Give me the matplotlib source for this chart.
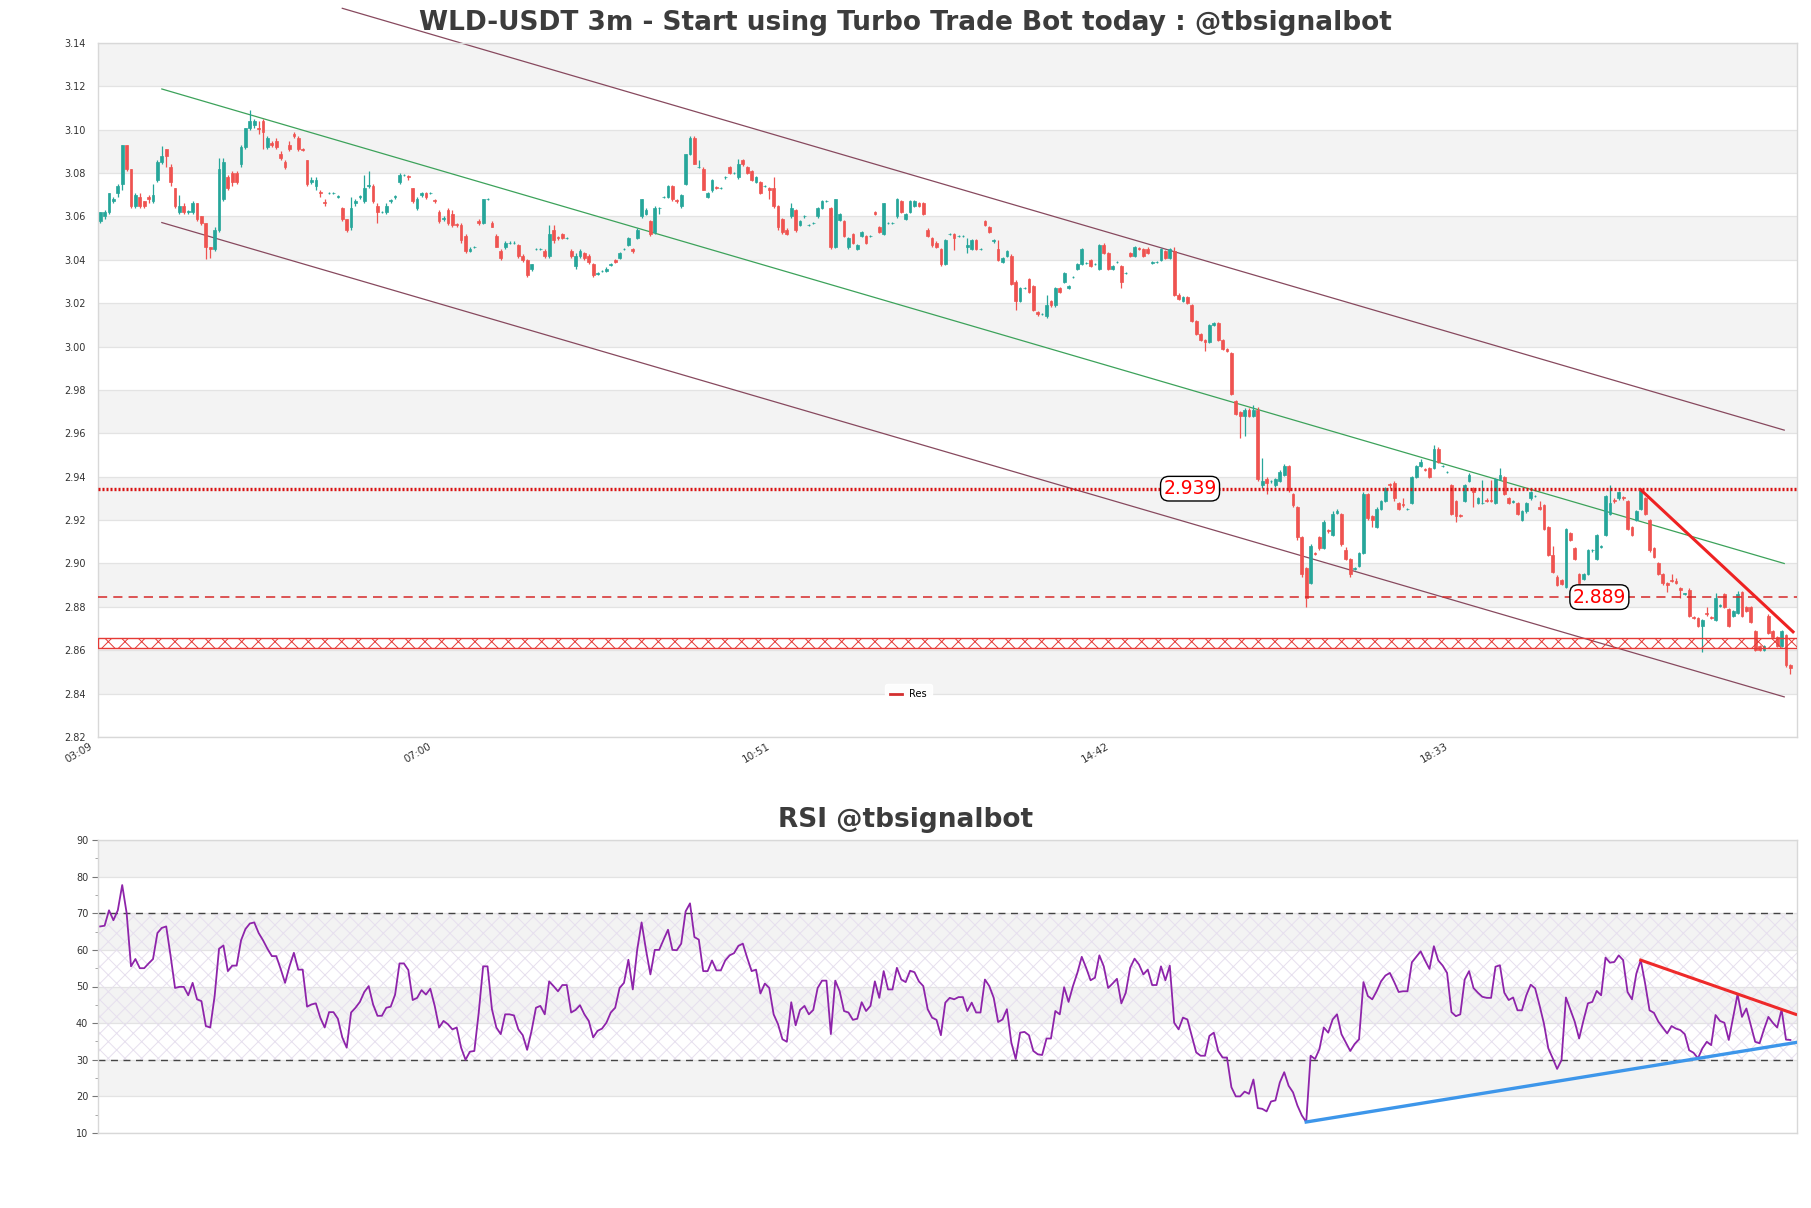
import matplotlib.pyplot as plt
from matplotlib.lines import Line2D
from matplotlib.ticker import FormatStrFormatter, MultipleLocator
from matplotlib.transforms import ScaledTranslation
import numpy as np

# ---- WLD-USDT 3m candles ----
opens = [
    3.058, 3.060, 3.062, 3.067, 3.071, 3.075, 3.093, 3.082, 3.065, 3.069,
    3.067, 3.069, 3.067, 3.077, 3.085, 3.091, 3.083, 3.073, 3.062, 3.065,
    3.062, 3.062, 3.066, 3.060, 3.057, 3.046, 3.045, 3.054, 3.068, 3.078,
    3.080, 3.080, 3.084, 3.092, 3.101, 3.102, 3.101, 3.104, 3.092, 3.094,
    3.095, 3.089, 3.085, 3.093, 3.098, 3.096, 3.091, 3.086, 3.076, 3.074,
    3.0715, 3.0665, 3.071, 3.071, 3.069, 3.064, 3.059, 3.055, 3.066, 3.069,
    3.067, 3.074, 3.074, 3.065, 3.062, 3.062, 3.067, 3.069, 3.076, 3.079,
    3.0785, 3.073, 3.064, 3.070, 3.071, 3.071, 3.0675, 3.062, 3.059, 3.063,
    3.061, 3.0565, 3.056, 3.051, 3.044, 3.046, 3.058, 3.057, 3.068, 3.057,
    3.051, 3.044, 3.046, 3.048, 3.048, 3.047, 3.042, 3.040, 3.036, 3.045,
    3.045, 3.044, 3.042, 3.054, 3.0505, 3.052, 3.050, 3.044, 3.037, 3.042,
    3.043, 3.042, 3.038, 3.0335, 3.035, 3.035, 3.0375, 3.040, 3.041, 3.045,
    3.047, 3.045, 3.050, 3.060, 3.061, 3.058, 3.053, 3.064, 3.069, 3.069,
    3.074, 3.0675, 3.065, 3.075, 3.089, 3.096, 3.083, 3.082, 3.069, 3.072,
    3.0735, 3.073, 3.078, 3.083, 3.080, 3.078, 3.086, 3.083, 3.081, 3.076,
    3.076, 3.074, 3.073, 3.073, 3.065, 3.059, 3.054, 3.060, 3.063, 3.056,
    3.060, 3.056, 3.057, 3.060, 3.064, 3.067, 3.064, 3.046, 3.0585, 3.058,
    3.046, 3.052, 3.045, 3.051, 3.051, 3.051, 3.062, 3.055, 3.052, 3.057,
    3.057, 3.060, 3.067, 3.059, 3.062, 3.065, 3.066, 3.066, 3.054, 3.050,
    3.048, 3.045, 3.038, 3.052, 3.052, 3.051, 3.051, 3.046, 3.045, 3.049,
    3.045, 3.058, 3.055, 3.0485, 3.045, 3.039, 3.042, 3.042, 3.030, 3.021,
    3.027, 3.031, 3.028, 3.016, 3.015, 3.014, 3.021, 3.019, 3.027, 3.030,
    3.027, 3.032, 3.036, 3.038, 3.0385, 3.040, 3.038, 3.036, 3.047, 3.043,
    3.036, 3.039, 3.037, 3.034, 3.043, 3.042, 3.0455, 3.045, 3.045, 3.0385,
    3.039, 3.040, 3.044, 3.041, 3.044, 3.024, 3.021, 3.023, 3.019, 3.012,
    3.006, 3.003, 3.002, 3.010, 3.011, 3.003, 2.999, 2.997, 2.975, 2.970,
    2.968, 2.971, 2.968, 2.971, 2.936, 2.939, 2.938, 2.936, 2.938, 2.941,
    2.945, 2.932, 2.926, 2.912, 2.898, 2.891, 2.905, 2.912, 2.907, 2.9155,
    2.913, 2.9235, 2.923, 2.906, 2.902, 2.8975, 2.899, 2.905, 2.932, 2.922,
    2.917, 2.925, 2.929, 2.9365, 2.937, 2.928, 2.9275, 2.925, 2.928, 2.940,
    2.945, 2.9435, 2.944, 2.944, 2.953, 2.945, 2.942, 2.936, 2.929, 2.9225,
    2.929, 2.938, 2.935, 2.928, 2.928, 2.9295, 2.9295, 2.928, 2.939, 2.940,
    2.930, 2.9285, 2.928, 2.920, 2.924, 2.930, 2.931, 2.926, 2.927, 2.917,
    2.904, 2.894, 2.8925, 2.889, 2.914, 2.907, 2.895, 2.893, 2.895, 2.906,
    2.902, 2.9075, 2.913, 2.923, 2.9295, 2.930, 2.9305, 2.929, 2.917, 2.920,
    2.925, 2.930, 2.920, 2.907, 2.900, 2.895, 2.891, 2.8925, 2.892, 2.8885,
    2.886, 2.888, 2.8755, 2.875, 2.871, 2.877, 2.8755, 2.874, 2.8805, 2.886,
    2.879, 2.876, 2.877, 2.887, 2.880, 2.880, 2.869, 2.862, 2.860, 2.876,
    2.869, 2.866, 2.862, 2.867, 2.853,
]
highs = [
    3.062, 3.063, 3.071, 3.069, 3.075, 3.093, 3.093, 3.082, 3.071, 3.071,
    3.067, 3.070, 3.075, 3.086, 3.0925, 3.091, 3.084, 3.073, 3.070, 3.066,
    3.063, 3.067, 3.066, 3.060, 3.057, 3.046, 3.055, 3.087, 3.087, 3.079,
    3.081, 3.081, 3.093, 3.101, 3.109, 3.105, 3.104, 3.105, 3.097, 3.095,
    3.096, 3.090, 3.086, 3.095, 3.099, 3.097, 3.0915, 3.086, 3.078, 3.078,
    3.072, 3.068, 3.0715, 3.0715, 3.070, 3.0645, 3.059, 3.069, 3.068, 3.070,
    3.079, 3.081, 3.075, 3.066, 3.0625, 3.066, 3.068, 3.070, 3.080, 3.0795,
    3.079, 3.073, 3.069, 3.0715, 3.0715, 3.0715, 3.068, 3.063, 3.060, 3.064,
    3.063, 3.057, 3.057, 3.052, 3.046, 3.0465, 3.059, 3.068, 3.0685, 3.058,
    3.052, 3.045, 3.0485, 3.0485, 3.0485, 3.0475, 3.0425, 3.0405, 3.038, 3.0455,
    3.0455, 3.045, 3.056, 3.056, 3.051, 3.0525, 3.0505, 3.045, 3.043, 3.045,
    3.0435, 3.0425, 3.0385, 3.0345, 3.0355, 3.0365, 3.0385, 3.0405, 3.0435, 3.0455,
    3.0505, 3.0455, 3.0545, 3.068, 3.064, 3.0585, 3.065, 3.0645, 3.0695, 3.0745,
    3.0745, 3.068, 3.0705, 3.089, 3.097, 3.097, 3.086, 3.083, 3.0715, 3.0775,
    3.074, 3.0735, 3.0785, 3.0835, 3.0805, 3.0865, 3.0865, 3.0835, 3.0815, 3.0785,
    3.0765, 3.0745, 3.0735, 3.078, 3.0655, 3.0595, 3.0545, 3.066, 3.0635, 3.0585,
    3.0605, 3.0565, 3.0575, 3.0645, 3.0675, 3.0675, 3.0645, 3.068, 3.0615, 3.0585,
    3.0505, 3.0525, 3.0475, 3.0535, 3.0515, 3.0515, 3.0625, 3.0555, 3.066, 3.0575,
    3.0575, 3.0685, 3.0675, 3.0615, 3.0675, 3.0675, 3.0665, 3.0665, 3.0545, 3.0505,
    3.0485, 3.0455, 3.0495, 3.0525, 3.0525, 3.0515, 3.0515, 3.050, 3.0495, 3.0495,
    3.0455, 3.0585, 3.0555, 3.0495, 3.049, 3.0415, 3.0445, 3.0425, 3.0305, 3.0275,
    3.0275, 3.0315, 3.0285, 3.0165, 3.0155, 3.024, 3.0215, 3.0275, 3.0275, 3.0345,
    3.0285, 3.0325, 3.0385, 3.0455, 3.039, 3.0405, 3.0385, 3.0475, 3.048, 3.0435,
    3.0375, 3.0395, 3.0375, 3.0345, 3.0435, 3.0465, 3.046, 3.0455, 3.046, 3.0395,
    3.0395, 3.0455, 3.0445, 3.0455, 3.046, 3.0245, 3.0235, 3.0235, 3.0195, 3.0125,
    3.0065, 3.0035, 3.0105, 3.0115, 3.0115, 3.0035, 2.9995, 2.9975, 2.9755, 2.9705,
    2.9715, 2.9715, 2.973, 2.972, 2.9485, 2.940, 2.9385, 2.9395, 2.943, 2.946,
    2.9455, 2.9325, 2.9265, 2.9125, 2.8985, 2.909, 2.9055, 2.9125, 2.920, 2.916,
    2.924, 2.925, 2.9235, 2.9075, 2.9025, 2.8985, 2.9055, 2.933, 2.9325, 2.9225,
    2.926, 2.9295, 2.9355, 2.937, 2.938, 2.9285, 2.930, 2.9255, 2.9405, 2.9455,
    2.948, 2.944, 2.9445, 2.9545, 2.9535, 2.9455, 2.9425, 2.9365, 2.9295, 2.923,
    2.9365, 2.9415, 2.9355, 2.9305, 2.9385, 2.930, 2.9385, 2.9395, 2.944, 2.9405,
    2.9305, 2.9295, 2.9285, 2.9245, 2.9285, 2.9335, 2.9315, 2.929, 2.9275, 2.9175,
    2.908, 2.8945, 2.893, 2.9165, 2.9145, 2.9075, 2.8955, 2.8955, 2.9065, 2.9065,
    2.9135, 2.9085, 2.9315, 2.936, 2.930, 2.9335, 2.931, 2.9295, 2.9175, 2.9245,
    2.9345, 2.9305, 2.9205, 2.9075, 2.9005, 2.8955, 2.8915, 2.895, 2.8935, 2.889,
    2.8865, 2.8885, 2.876, 2.8755, 2.8745, 2.880, 2.876, 2.8865, 2.8815, 2.8865,
    2.8795, 2.8785, 2.8875, 2.8875, 2.8805, 2.8805, 2.8695, 2.8625, 2.8625, 2.8765,
    2.8695, 2.8665, 2.8695, 2.8675, 2.8535,
]
lows = [
    3.057, 3.059, 3.061, 3.066, 3.069, 3.072, 3.081, 3.064, 3.064, 3.064,
    3.064, 3.066, 3.066, 3.076, 3.084, 3.083, 3.074, 3.064, 3.061, 3.061,
    3.061, 3.061, 3.058, 3.056, 3.0405, 3.041, 3.044, 3.053, 3.067, 3.072,
    3.074, 3.075, 3.083, 3.091, 3.100, 3.101, 3.098, 3.091, 3.091, 3.092,
    3.091, 3.086, 3.082, 3.090, 3.096, 3.090, 3.090, 3.074, 3.075, 3.072,
    3.069, 3.065, 3.0705, 3.0705, 3.0685, 3.058, 3.053, 3.054, 3.065, 3.068,
    3.066, 3.073, 3.066, 3.057, 3.0615, 3.061, 3.066, 3.068, 3.075, 3.0785,
    3.077, 3.066, 3.063, 3.069, 3.068, 3.0705, 3.066, 3.057, 3.058, 3.056,
    3.055, 3.055, 3.048, 3.043, 3.0435, 3.0455, 3.056, 3.0565, 3.0675, 3.055,
    3.046, 3.040, 3.045, 3.0475, 3.0475, 3.041, 3.039, 3.032, 3.035, 3.0445,
    3.0445, 3.041, 3.041, 3.048, 3.049, 3.0495, 3.0495, 3.041, 3.036, 3.041,
    3.040, 3.038, 3.032, 3.033, 3.0345, 3.0345, 3.037, 3.0385, 3.0405, 3.0445,
    3.0465, 3.043, 3.0495, 3.0595, 3.0605, 3.051, 3.052, 3.061, 3.0685, 3.0685,
    3.067, 3.066, 3.064, 3.0745, 3.0885, 3.084, 3.0825, 3.072, 3.0685, 3.0715,
    3.0725, 3.0725, 3.0775, 3.0795, 3.0795, 3.0775, 3.0835, 3.0795, 3.0765, 3.0755,
    3.0705, 3.0735, 3.068, 3.064, 3.054, 3.052, 3.0515, 3.0595, 3.053, 3.0555,
    3.0595, 3.0555, 3.0565, 3.0595, 3.0635, 3.0665, 3.045, 3.0455, 3.058, 3.0505,
    3.045, 3.0475, 3.0445, 3.0505, 3.0475, 3.0505, 3.0605, 3.0525, 3.0515, 3.0565,
    3.0565, 3.0595, 3.0615, 3.0585, 3.0615, 3.0645, 3.0645, 3.0605, 3.0505, 3.046,
    3.0455, 3.037, 3.0375, 3.0515, 3.0445, 3.0505, 3.0505, 3.043, 3.0445, 3.0445,
    3.0445, 3.0555, 3.0525, 3.048, 3.0395, 3.0385, 3.0415, 3.0285, 3.017, 3.0205,
    3.0265, 3.0245, 3.0165, 3.014, 3.0145, 3.013, 3.0185, 3.0185, 3.0245, 3.0295,
    3.0265, 3.0315, 3.0355, 3.0375, 3.038, 3.0365, 3.0375, 3.0355, 3.0425, 3.0355,
    3.0355, 3.0385, 3.027, 3.0335, 3.0415, 3.0415, 3.0445, 3.0415, 3.0425, 3.038,
    3.0385, 3.0395, 3.0405, 3.0405, 3.0235, 3.0215, 3.0205, 3.0195, 3.0115, 3.0055,
    3.0025, 2.998, 3.0015, 3.0095, 3.0025, 2.9985, 2.9975, 2.9775, 2.9685, 2.958,
    2.959, 2.9675, 2.9675, 2.938, 2.935, 2.932, 2.937, 2.9355, 2.9375, 2.9405,
    2.933, 2.926, 2.911, 2.894, 2.880, 2.8905, 2.904, 2.906, 2.9065, 2.914,
    2.9125, 2.923, 2.908, 2.9015, 2.894, 2.897, 2.8985, 2.9045, 2.920, 2.917,
    2.9165, 2.9245, 2.9285, 2.935, 2.929, 2.9245, 2.926, 2.9245, 2.9275, 2.9395,
    2.9445, 2.9425, 2.9395, 2.9435, 2.9465, 2.9445, 2.9415, 2.9225, 2.919, 2.9215,
    2.9285, 2.9375, 2.926, 2.9275, 2.9275, 2.9285, 2.9285, 2.9275, 2.9385, 2.9315,
    2.9275, 2.928, 2.9225, 2.9195, 2.9235, 2.9295, 2.9305, 2.9245, 2.9155, 2.9035,
    2.8955, 2.8895, 2.890, 2.8885, 2.9105, 2.9015, 2.8905, 2.8925, 2.8945, 2.9055,
    2.9015, 2.907, 2.9125, 2.9225, 2.928, 2.9295, 2.9295, 2.9155, 2.9125, 2.9195,
    2.9245, 2.9225, 2.9055, 2.9025, 2.8945, 2.890, 2.887, 2.8915, 2.8905, 2.884,
    2.8855, 2.8755, 2.8745, 2.8705, 2.859, 2.876, 2.8745, 2.8735, 2.880, 2.8795,
    2.8705, 2.8755, 2.8765, 2.8755, 2.8775, 2.8725, 2.8595, 2.8595, 2.8595, 2.8675,
    2.8655, 2.8615, 2.8615, 2.8525, 2.849,
]
closes = [
    3.062, 3.062, 3.071, 3.068, 3.074, 3.093, 3.082, 3.065, 3.070, 3.065,
    3.065, 3.068, 3.070, 3.085, 3.088, 3.088, 3.076, 3.065, 3.065, 3.062,
    3.0625, 3.066, 3.059, 3.057, 3.046, 3.045, 3.054, 3.082, 3.085, 3.073,
    3.076, 3.076, 3.092, 3.101, 3.104, 3.104, 3.1005, 3.099, 3.096, 3.093,
    3.092, 3.087, 3.083, 3.091, 3.097, 3.091, 3.0905, 3.075, 3.077, 3.077,
    3.071, 3.066, 3.071, 3.071, 3.0695, 3.059, 3.054, 3.064, 3.067, 3.0695,
    3.073, 3.0745, 3.067, 3.062, 3.062, 3.065, 3.0675, 3.0695, 3.079, 3.079,
    3.078, 3.067, 3.068, 3.071, 3.069, 3.071, 3.067, 3.058, 3.0595, 3.057,
    3.056, 3.056, 3.049, 3.044, 3.045, 3.046, 3.057, 3.068, 3.068, 3.055,
    3.046, 3.041, 3.048, 3.048, 3.048, 3.042, 3.040, 3.033, 3.038, 3.045,
    3.045, 3.042, 3.052, 3.049, 3.050, 3.050, 3.050, 3.042, 3.042, 3.044,
    3.041, 3.039, 3.033, 3.034, 3.035, 3.036, 3.038, 3.039, 3.043, 3.045,
    3.050, 3.044, 3.054, 3.068, 3.063, 3.052, 3.064, 3.064, 3.069, 3.074,
    3.068, 3.067, 3.070, 3.089, 3.096, 3.084, 3.083, 3.072, 3.071, 3.077,
    3.073, 3.073, 3.078, 3.080, 3.080, 3.084, 3.084, 3.080, 3.077, 3.078,
    3.071, 3.074, 3.072, 3.065, 3.055, 3.053, 3.052, 3.064, 3.054, 3.058,
    3.060, 3.056, 3.057, 3.064, 3.067, 3.067, 3.046, 3.068, 3.061, 3.051,
    3.050, 3.048, 3.047, 3.053, 3.048, 3.051, 3.061, 3.053, 3.066, 3.057,
    3.057, 3.068, 3.062, 3.061, 3.067, 3.067, 3.065, 3.061, 3.051, 3.047,
    3.046, 3.038, 3.049, 3.052, 3.050, 3.051, 3.051, 3.047, 3.049, 3.045,
    3.045, 3.056, 3.053, 3.049, 3.040, 3.041, 3.044, 3.029, 3.021, 3.027,
    3.027, 3.025, 3.017, 3.015, 3.015, 3.019, 3.019, 3.027, 3.025, 3.034,
    3.028, 3.032, 3.038, 3.045, 3.0385, 3.037, 3.038, 3.047, 3.043, 3.036,
    3.037, 3.039, 3.030, 3.034, 3.042, 3.046, 3.045, 3.042, 3.043, 3.039,
    3.039, 3.045, 3.041, 3.045, 3.024, 3.022, 3.023, 3.020, 3.012, 3.006,
    3.003, 3.002, 3.010, 3.011, 3.003, 2.999, 2.998, 2.978, 2.969, 2.968,
    2.971, 2.968, 2.971, 2.939, 2.938, 2.937, 2.938, 2.939, 2.942, 2.945,
    2.934, 2.927, 2.912, 2.895, 2.884, 2.908, 2.9045, 2.907, 2.919, 2.915,
    2.923, 2.924, 2.909, 2.902, 2.895, 2.898, 2.905, 2.932, 2.921, 2.920,
    2.925, 2.929, 2.935, 2.936, 2.930, 2.925, 2.927, 2.925, 2.940, 2.945,
    2.947, 2.943, 2.940, 2.953, 2.947, 2.945, 2.942, 2.923, 2.922, 2.922,
    2.936, 2.941, 2.933, 2.930, 2.928, 2.929, 2.929, 2.939, 2.941, 2.932,
    2.928, 2.929, 2.923, 2.924, 2.928, 2.933, 2.931, 2.925, 2.916, 2.904,
    2.896, 2.890, 2.8906, 2.916, 2.911, 2.902, 2.891, 2.895, 2.906, 2.906,
    2.913, 2.908, 2.931, 2.928, 2.929, 2.933, 2.930, 2.916, 2.913, 2.924,
    2.934, 2.923, 2.906, 2.903, 2.895, 2.891, 2.890, 2.892, 2.891, 2.888,
    2.8865, 2.876, 2.875, 2.871, 2.874, 2.8765, 2.875, 2.884, 2.881, 2.880,
    2.871, 2.878, 2.886, 2.876, 2.878, 2.873, 2.860, 2.860, 2.862, 2.868,
    2.866, 2.862, 2.869, 2.853, 2.852,
]

# ---- RSI values, one per candle ----
rsi = [
    66.4, 66.6, 70.8, 68.1, 70.8, 77.7, 70.1, 55.5, 57.5, 55.0,
    55.0, 56.3, 57.5, 64.6, 66.0, 66.4, 58.3, 49.6, 49.9, 49.9,
    47.6, 51.0, 46.5, 46.0, 39.2, 38.8, 47.4, 60.3, 61.2, 54.2,
    55.7, 55.7, 62.6, 65.7, 67.2, 67.5, 64.6, 62.6, 60.3, 58.3,
    58.3, 54.8, 51.0, 55.5, 59.2, 54.6, 54.6, 44.5, 45.1, 45.4,
    41.5, 38.8, 43.0, 43.0, 41.2, 36.1, 33.3, 42.9, 44.2, 45.8,
    48.5, 50.1, 45.1, 42.0, 42.0, 44.2, 44.5, 47.8, 56.3, 56.3,
    54.5, 46.3, 46.9, 49.0, 47.8, 49.4, 44.7, 38.8, 40.6, 39.7,
    38.3, 38.8, 33.3, 30.0, 32.2, 32.4, 42.9, 55.5, 55.5, 43.8,
    38.8, 37.0, 42.4, 42.4, 42.1, 38.3, 36.7, 32.7, 37.9, 44.2,
    44.7, 42.4, 51.4, 50.1, 48.7, 50.4, 50.4, 42.9, 43.6, 44.9,
    42.4, 40.6, 36.1, 37.9, 38.5, 40.1, 42.9, 44.2, 49.6, 51.0,
    57.3, 49.2, 60.0, 67.5, 60.0, 53.3, 60.0, 60.0, 62.8, 65.5,
    60.0, 59.9, 61.7, 70.5, 72.7, 63.5, 62.8, 54.2, 54.2, 57.1,
    54.4, 54.4, 57.1, 58.5, 59.1, 61.1, 61.7, 57.8, 54.2, 54.6,
    48.1, 50.8, 49.6, 42.4, 39.7, 35.6, 34.9, 45.7, 39.4, 43.6,
    44.7, 42.4, 43.6, 49.6, 51.6, 51.6, 37.0, 51.6, 48.7, 43.3,
    42.9, 40.9, 41.2, 45.7, 43.3, 44.7, 51.4, 46.9, 54.2, 49.2,
    49.2, 55.1, 51.9, 51.2, 54.3, 53.9, 51.4, 50.1, 43.8, 41.5,
    40.9, 36.7, 45.6, 46.9, 46.5, 47.1, 47.1, 43.3, 45.6, 42.9,
    42.9, 51.9, 50.1, 46.9, 40.3, 41.0, 43.8, 34.7, 30.2, 37.4,
    37.6, 36.7, 32.4, 31.5, 31.3, 35.8, 35.8, 43.3, 42.4, 49.8,
    45.8, 50.1, 53.7, 58.1, 55.1, 51.7, 52.4, 58.5, 55.5, 49.6,
    50.8, 52.1, 45.4, 48.3, 55.1, 57.6, 56.0, 53.3, 54.6, 50.4,
    50.4, 55.5, 51.7, 55.7, 40.1, 38.3, 41.5, 41.0, 36.5, 32.0,
    31.1, 31.1, 36.5, 37.4, 32.4, 30.6, 30.6, 22.5, 20.0, 20.0,
    21.3, 20.7, 24.6, 16.8, 16.6, 15.9, 18.6, 18.9, 23.8, 26.6,
    22.9, 21.1, 17.5, 14.8, 13.0, 31.1, 30.2, 32.9, 38.8, 37.4,
    41.0, 42.4, 37.0, 34.7, 32.4, 34.3, 35.6, 51.2, 47.4, 46.5,
    48.7, 51.4, 53.0, 53.7, 51.2, 48.5, 48.7, 48.7, 56.6, 58.1,
    59.6, 57.1, 54.8, 61.0, 57.1, 55.7, 53.7, 43.0, 41.9, 42.4,
    51.9, 54.2, 49.6, 48.3, 47.2, 46.9, 46.9, 55.4, 55.8, 48.3,
    46.3, 47.0, 43.5, 43.5, 47.6, 50.5, 49.5, 44.9, 39.9, 33.1,
    30.4, 27.5, 29.9, 47.0, 43.7, 40.4, 35.8, 40.8, 45.4, 45.8,
    48.8, 47.6, 57.9, 56.5, 56.7, 58.5, 57.2, 48.5, 46.5, 53.5,
    57.2, 50.8, 43.5, 42.8, 40.4, 38.8, 37.2, 39.2, 38.5, 38.1,
    37.0, 32.6, 31.9, 30.4, 33.1, 34.9, 34.0, 42.2, 40.6, 40.1,
    35.4, 41.7, 47.9, 41.7, 44.0, 39.5, 34.9, 34.5, 38.3, 41.7,
    40.1, 38.8, 43.7, 35.5, 35.4,
]

time_ticks = [0, 77, 154, 231, 308]
time_labels = ["03:09", "07:00", "10:51", "14:42", "18:33"]

# resistance levels and their boxed labels
res_dotted = 2.9345
res_dashed = 2.8845
res_dotted_label = "2.939"
res_dashed_label = "2.889"
label_x = [247.6, 340.6]
zone_lo, zone_hi = 2.861, 2.8657

# regression channel (start / end candle)
chan_x = [14, 382.6]
chan_upper_x = [55, 382.6]
chan_upper = [3.1560, 2.9615]
chan_mid = [3.1188, 2.900]
chan_lower = [3.0572, 2.8385]

price_trend_x = [350, 384.6]
price_trend_y = [2.934, 2.8685]
rsi_res_x = [350, 385.2]
rsi_res_y = [57.2, 42.4]
rsi_sup_x = [274, 385.2]
rsi_sup_y = [13.0, 34.7]

UP = '#26a69a'
DOWN = '#ef5350'
BAND = '#f3f3f3'
GRID = '#e3e3e3'
SPINE = '#d8d8d8'
TXT = '#3c3c3c'


def style_axes(ax):
    for s in ax.spines.values():
        s.set_color(SPINE)
        s.set_linewidth(1)
    ax.set_axisbelow(True)


def draw_candles(ax):
    o = np.array(opens)
    h = np.array(highs)
    l = np.array(lows)
    c = np.array(closes)
    idx = np.arange(len(o))
    cols = np.where(c >= o, UP, DOWN)
    ax.vlines(idx, l, h, colors=cols, lw=0.9, zorder=3)
    ax.bar(idx, np.abs(c - o), bottom=np.minimum(o, c), width=0.62,
           color=cols, edgecolor=cols, lw=0.5, zorder=4)


def main():
    plt.rcParams['hatch.linewidth'] = 0.7
    fig = plt.figure(figsize=(18.11, 12.08), dpi=100)

    # ---------------- price panel ----------------
    ax = fig.add_axes([98 / 1811, 471 / 1208, 1699 / 1811, 694 / 1208])
    style_axes(ax)
    for lo in np.arange(2.84, 3.13, 0.04):
        ax.axhspan(lo, lo + 0.02, color=BAND, lw=0, zorder=0)
    ax.set_ylim(2.82, 3.14)
    ax.set_xlim(-0.5, 385.5)
    ax.set_yticks(np.arange(2.82, 3.1401, 0.02))
    ax.yaxis.set_major_formatter(FormatStrFormatter('%.2f'))
    ax.grid(axis='y', color=GRID, lw=0.9)
    ax.tick_params(axis='y', length=0, pad=9, labelsize=7, labelcolor='#333333')
    ax.set_xticks(time_ticks)
    ax.set_xticklabels(time_labels, rotation=30, ha='right', rotation_mode='anchor')
    ax.tick_params(axis='x', length=0, pad=3, labelsize=7.5, labelcolor='#333333')
    shift = ScaledTranslation(-8 / 72, 0, fig.dpi_scale_trans)
    for lab in ax.get_xticklabels():
        lab.set_transform(lab.get_transform() + shift)

    draw_candles(ax)

    ax.plot(chan_upper_x, chan_upper, color='#87495e', lw=0.9, zorder=2, clip_on=False)
    ax.plot(chan_x, chan_lower, color='#87495e', lw=0.9, zorder=2)
    ax.plot(chan_x, chan_mid, color='#3ca25a', lw=0.9, zorder=2)

    ax.axhline(res_dotted, color='#d81010', lw=2.4, ls=(0, (0.6, 0.6)), zorder=5)
    ax.axhline(res_dashed, color='#d62828', lw=1.1, ls=(0, (6, 4)), zorder=5)
    ax.axhspan(zone_lo, zone_hi, facecolor='none', edgecolor='#e53935',
               hatch='xx', lw=1, zorder=5)

    box = dict(boxstyle='round,pad=0.15,rounding_size=0.45', fc='white', ec='black', lw=1)
    ax.text(label_x[0], res_dotted, res_dotted_label, color='red', fontsize=13.5,
            ha='center', va='center', bbox=box, zorder=7)
    ax.text(label_x[1], res_dashed, res_dashed_label, color='red', fontsize=13.5,
            ha='center', va='center', bbox=box, zorder=7)

    ax.plot(price_trend_x, price_trend_y, color='#ee2222', lw=2.2, zorder=6)

    leg = ax.legend([Line2D([], [], color='#d32f2f', lw=2)], ['Res'], loc='center',
                    bbox_to_anchor=(0.477, 0.062), fontsize=7, frameon=True,
                    handlelength=1.2, borderpad=0.5)
    leg.get_frame().set_edgecolor('white')
    leg.get_frame().set_alpha(0.9)

    # ---------------- RSI panel ----------------
    ax2 = fig.add_axes([98 / 1811, 75 / 1208, 1699 / 1811, 293 / 1208])
    style_axes(ax2)
    for lo in (20, 40, 60, 80):
        ax2.axhspan(lo, lo + 10, color=BAND, lw=0, zorder=0)
    ax2.axhspan(30, 70, facecolor='none', edgecolor='#e6dfee', hatch='xx', lw=0, zorder=1)
    ax2.set_ylim(10, 90)
    ax2.set_xlim(-0.5, 385.5)
    ax2.yaxis.set_major_locator(MultipleLocator(10))
    ax2.yaxis.set_minor_locator(MultipleLocator(5))
    ax2.grid(axis='y', which='major', color=GRID, lw=0.9)
    ax2.tick_params(axis='y', which='major', length=4, color='#777777', labelsize=7,
                    labelcolor='#333333', pad=3)
    ax2.tick_params(axis='y', which='minor', length=2.5, color='#999999')
    ax2.set_xticks([])

    ax2.axhline(70, color='#444444', lw=1, ls=(0, (5, 4)), zorder=2)
    ax2.axhline(30, color='#444444', lw=1, ls=(0, (5, 4)), zorder=2)
    ax2.plot(np.arange(len(rsi)), rsi, color='#8e24aa', lw=1.3, zorder=3)
    ax2.plot(rsi_sup_x, rsi_sup_y, color='#3d96ea', lw=2.4, zorder=4)
    ax2.plot(rsi_res_x, rsi_res_y, color='#ee2a2a', lw=2.2, zorder=4)

    fig.text(0.5, 1 - 23 / 1208, "WLD-USDT 3m - Start using Turbo Trade Bot today : @tbsignalbot",
             ha='center', va='center', fontsize=19, fontweight='bold', color=TXT)
    fig.text(0.5, 1 - 820 / 1208, "RSI @tbsignalbot",
             ha='center', va='center', fontsize=19, fontweight='bold', color=TXT)

    fig.savefig("out.png", dpi=100)


if __name__ == '__main__':
    main()
